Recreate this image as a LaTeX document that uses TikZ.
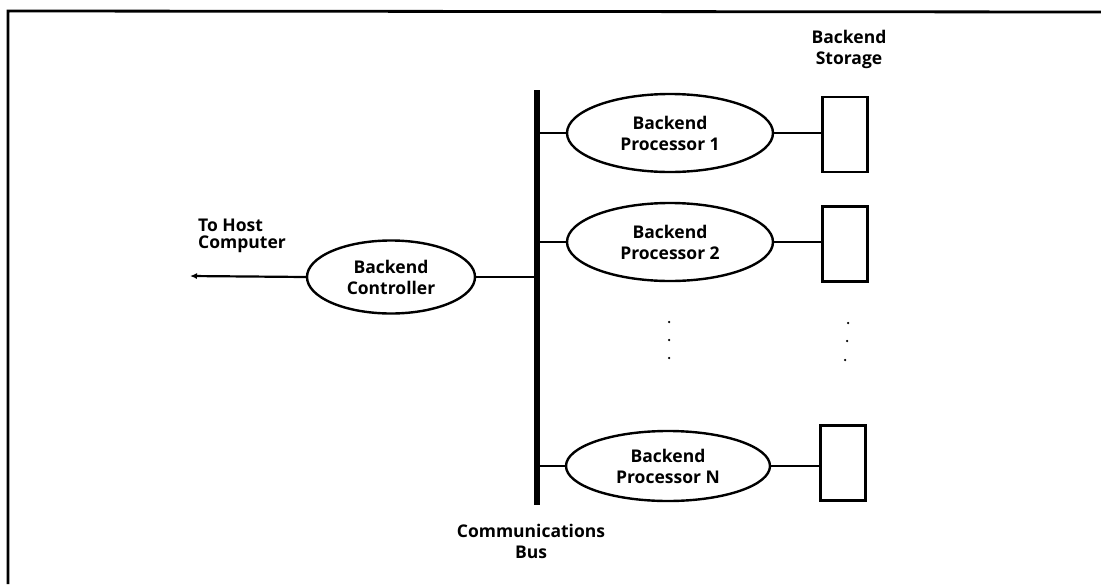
\documentclass[tikz,border=0pt]{standalone}
\usepackage{fontspec}
\setmainfont{Open Sans}
\usetikzlibrary{shapes.geometric,arrows.meta}
\begin{document}
\begin{tikzpicture}[x=1pt,y=-1pt,
  lbl/.style={font=\bfseries\fontsize{17.5}{21}\selectfont, align=center, inner sep=0pt},
  proc/.style={draw, line width=2.4pt, ellipse, inner sep=0pt, minimum width=206pt, minimum height=78pt, lbl},
  store/.style={draw, line width=2.4pt, rectangle, inner sep=0pt, minimum width=45pt, minimum height=75pt},
  wire/.style={line width=2.2pt},
  dotmark/.style={circle, fill, inner sep=0pt, minimum size=2.5pt}
]
\useasboundingbox (0,0) rectangle (1101,584);
% open frame
\coordinate (fr1) at (8,584);
\coordinate (fr2) at (8,11);
\coordinate (fr3) at (1101,12);
\draw[line width=2.8pt] (fr1) -- (fr2) -- (fr3);

% bus
\node (bus) [fill, inner sep=0pt, minimum width=6pt, minimum height=415pt] at (537,297) {};

% controller
\node (ctrl) [proc, minimum width=168pt, minimum height=73pt] at (391,277) {Backend\\Controller};
\coordinate (host) at (190,276);
\draw[wire, -{Latex[length=7pt,width=6pt]}] (ctrl.west) -- (host);
\draw[wire] (ctrl.east) -- (ctrl.east -| bus.west);
\node (hostlbl) [lbl, align=left, anchor=west, font=\bfseries\fontsize{17.5}{17}\selectfont] at (198,236) {To Host\\Computer};

% processors
\node (p1) [proc] at (670,133) {Backend\\Processor 1};
\node (p2) [proc] at (670,242) {Backend\\Processor 2};
\node (pn) [proc, minimum width=204pt, minimum height=70pt] at (668,466) {Backend\\Processor N};

\draw[wire] (p1.west) -- (p1.west -| bus.east);
\draw[wire] (p2.west) -- (p2.west -| bus.east);
\draw[wire] (pn.west) -- (pn.west -| bus.east);

% storage
\node (s1) [store] at (845,134.5) {};
\node (s2) [store] at (845,244) {};
\node (sn) [store] at (843,463) {};
\draw[wire] (p1.east) -- (p1.east -| s1.west);
\draw[wire] (p2.east) -- (p2.east -| s2.west);
\draw[wire] (pn.east) -- (pn.east -| sn.west);
\node (storelbl) [lbl] at (849,49) {Backend\\Storage};

% dots
\node (d1) [dotmark] at (669,322) {};
\node (d2) [dotmark] at (669,340) {};
\node (d3) [dotmark] at (669,358) {};
\node (e1) [dotmark] at (848,323) {};
\node (e2) [dotmark] at (847,341) {};
\node (e3) [dotmark] at (845,360) {};

\node (buslbl) [lbl] at (531,541) {Communications\\Bus};
\end{tikzpicture}
\end{document}
